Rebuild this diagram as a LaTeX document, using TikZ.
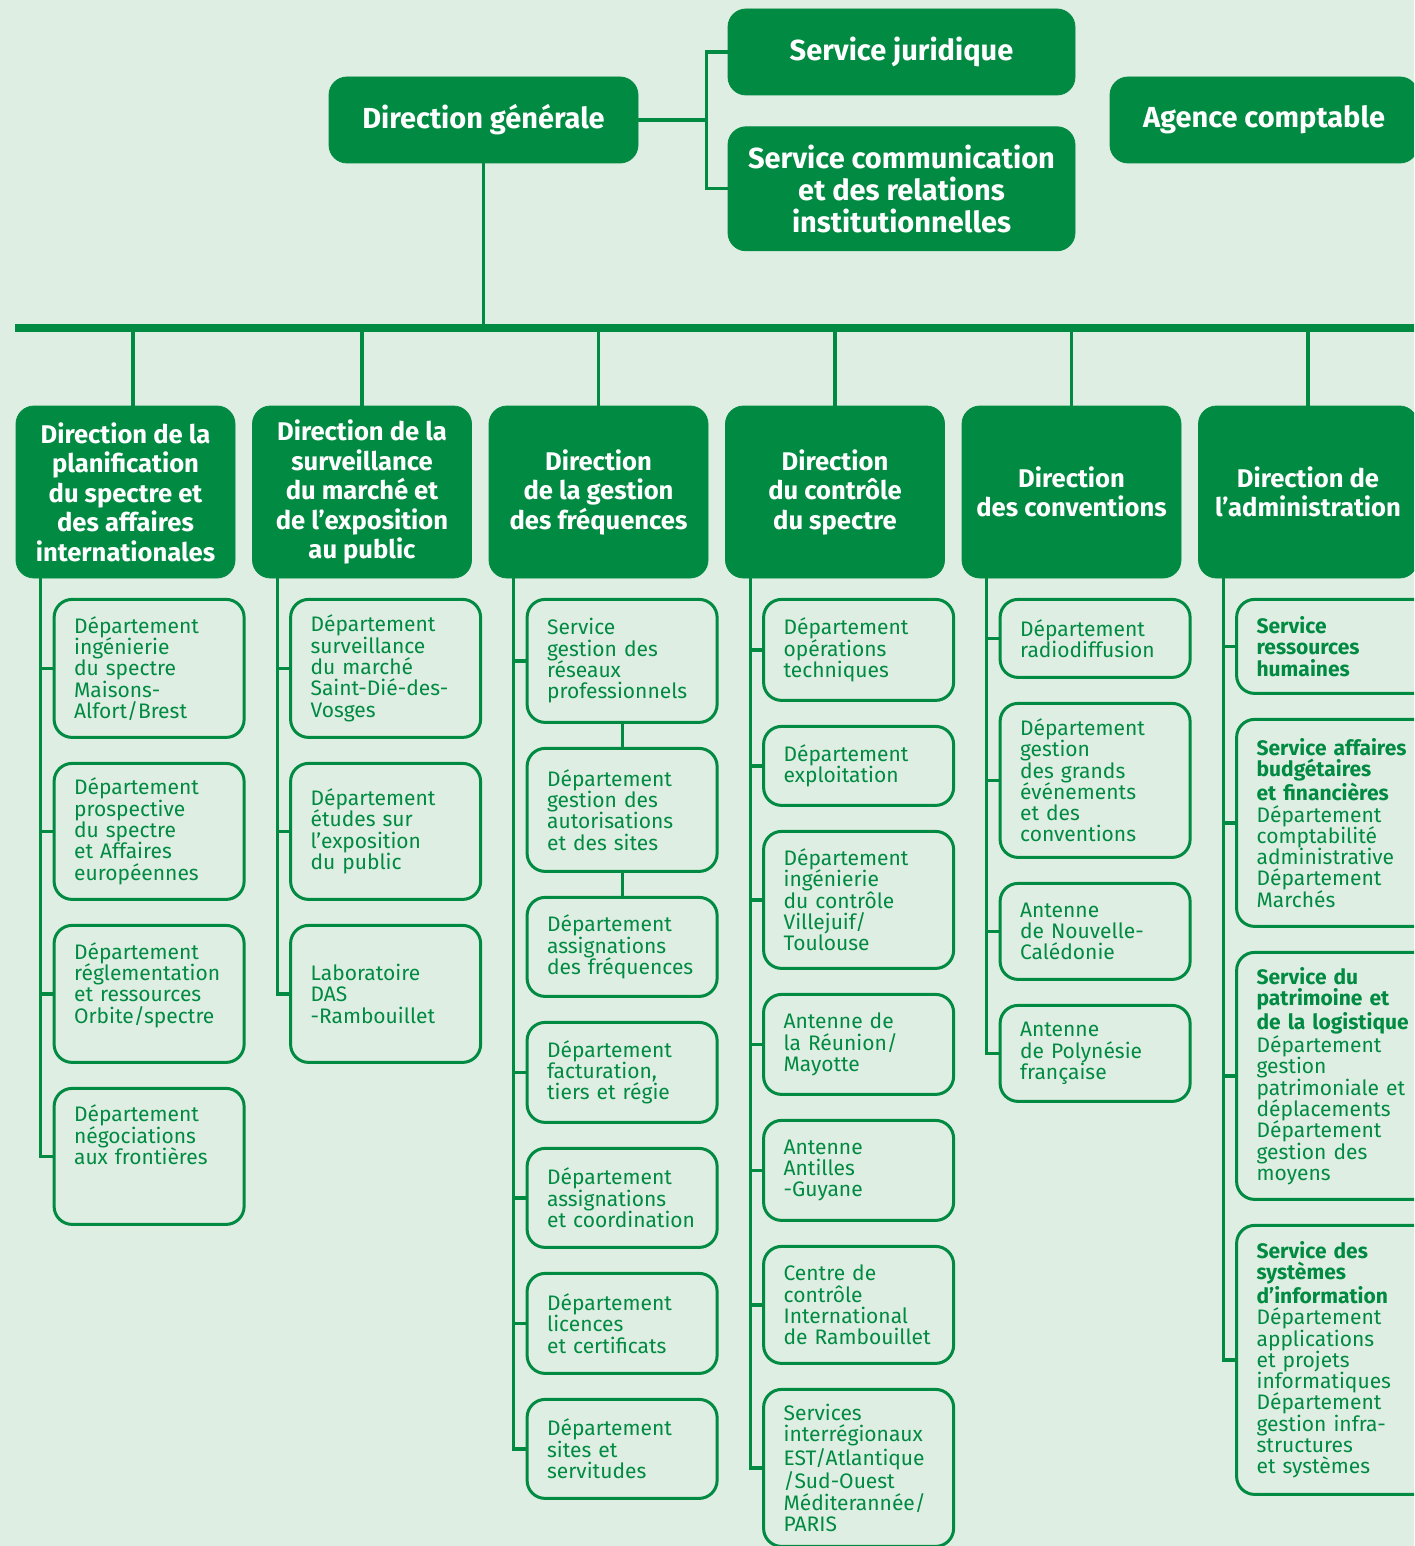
\documentclass[tikz,border=0pt]{standalone}
\usepackage{fontspec}
\setmainfont{Fira Sans}
\usetikzlibrary{positioning}
\definecolor{anfrgreen}{HTML}{008A42}
\definecolor{anfrbg}{HTML}{DFEEE2}
\hyphenpenalty=10000
\exhyphenpenalty=10000

\begin{document}
\begin{tikzpicture}[x=0.5pt,y=-0.5pt,node distance=11.5pt,
    topbox/.style={draw=anfrgreen,fill=anfrgreen,text=white,rounded corners=9pt,align=center,
      font=\fontsize{14.5}{16}\selectfont\bfseries,inner sep=2pt},
    dirbox/.style={draw=anfrgreen,fill=anfrgreen,text=white,rounded corners=9pt,align=center,
      font=\fontsize{12.8}{14.75}\selectfont\bfseries,minimum width=109.5pt,minimum height=86pt,inner sep=2pt},
    deptbox/.style={draw=anfrgreen,line width=1.5pt,text=anfrgreen,rounded corners=9pt,align=left,
      text width=75pt,inner xsep=10pt,inner ysep=3pt,font=\fontsize{10.5}{10.65}\selectfont,minimum height=#1},
    widebox/.style={deptbox=#1,text width=92pt},
    wire/.style={draw=anfrgreen,line width=1.6pt},
    mainbar/.style={draw=anfrgreen,line width=4pt}]

  \useasboundingbox (0,0) rectangle (1414,1546);
  \fill[anfrbg] (0,0) rectangle (1414,1546);
  \clip (0,0) rectangle (1414,1546);

  \node[topbox,minimum width=154.5pt,minimum height=43pt] (dg) at (483.5,120) {Direction générale};
  \node[topbox,minimum width=173.5pt,minimum height=43pt] (sj) at (901.5,52) {Service juridique};
  \node[topbox,minimum width=173.5pt,minimum height=62pt] (sc) [below=15.5pt of sj] {Service communication\\et des relations\\institutionnelles};
  \node[topbox,minimum width=154pt,minimum height=43pt] (ac) at (1264,120) {Agence comptable};

  \node[dirbox] (h1) at (125.5,492) {Direction de la\\planification\\du spectre et\\des affaires\\internationales};
  \node[dirbox] (h2) [right=8.35pt of h1] {Direction de la\\surveillance\\du marché et\\de l’exposition\\au public};
  \node[dirbox] (h3) [right=8.35pt of h2] {Direction\\de la gestion\\des fréquences};
  \node[dirbox] (h4) [right=8.35pt of h3] {Direction\\du contrôle\\du spectre};
  \node[dirbox] (h5) [right=8.35pt of h4] {Direction\\des conventions};
  \node[dirbox] (h6) [right=8.35pt of h5] {Direction de\\l’administration};

  \node[deptbox=69pt] (d11) [below right=9.75pt and 18.5pt of h1.south west] {Département\\ingénierie\\du spectre\\Maisons-\\Alfort/Brest};
  \node[deptbox=68pt] (d12) [below=of d11] {Département\\prospective\\du spectre\\et Affaires\\européennes};
  \node[deptbox=68.5pt,text depth=43pt] (d13) [below=of d12] {Département\\réglementation\\et ressources\\Orbite/spectre};
  \node[deptbox=68pt,text depth=43pt] (d14) [below=of d13] {Département\\négociations\\aux frontières};

  \node[deptbox=69pt] (d21) [below right=9.75pt and 18.5pt of h2.south west] {Département\\surveillance\\du marché\\Saint-Dié-des-\\Vosges};
  \node[deptbox=68pt] (d22) [below=of d21] {Département\\études sur\\l’exposition\\du public};
  \node[deptbox=68.5pt] (d23) [below=of d22] {Laboratoire\\DAS\\-Rambouillet};

  \node[deptbox=61.5pt] (d31) [below right=9.75pt and 18.5pt of h3.south west] {Service\\gestion des\\réseaux\\professionnels};
  \node[deptbox=61.5pt] (d32) [below=of d31] {Département\\gestion des\\autorisations\\et des sites};
  \node[deptbox=49.5pt] (d33) [below=of d32] {Département\\assignations\\des fréquences};
  \node[deptbox=50pt] (d34) [below=of d33] {Département\\facturation,\\tiers et régie};
  \node[deptbox=49.5pt] (d35) [below=of d34] {Département\\assignations\\et coordination};
  \node[deptbox=50pt] (d36) [below=of d35] {Département\\licences\\et certificats};
  \node[deptbox=49.5pt] (d37) [below=of d36] {Département\\sites et\\servitudes};

  \node[deptbox=50.5pt] (d41) [below right=9.75pt and 18.5pt of h4.south west] {Département\\opérations\\techniques};
  \node[deptbox=39.5pt] (d42) [below=of d41] {Département\\exploitation};
  \node[deptbox=68.5pt] (d43) [below=of d42] {Département\\ingénierie\\du contrôle\\Villejuif/\\Toulouse};
  \node[deptbox=50pt] (d44) [below=of d43] {Antenne de\\la Réunion/\\Mayotte};
  \node[deptbox=50pt] (d45) [below=of d44] {Antenne\\Antilles\\-Guyane};
  \node[deptbox=58.5pt] (d46) [below=of d45] {Centre de\\contrôle\\International\\de Rambouillet};
  \node[deptbox=78.5pt] (d47) [below=of d46] {Services\\interrégionaux\\EST/Atlantique\\/Sud-Ouest\\Méditerannée/\\PARIS};

  \node[deptbox=39pt] (d51) [below right=9.75pt and 18.5pt of h5.south west] {Département\\radiodiffusion};
  \node[deptbox=77pt] (d52) [below=of d51] {Département\\gestion\\des grands\\événements\\et des\\conventions};
  \node[deptbox=48pt] (d53) [below=of d52] {Antenne\\de Nouvelle-\\Calédonie};
  \node[deptbox=48pt] (d54) [below=of d53] {Antenne\\de Polynésie\\française};

  \node[widebox=47pt] (d61) [below right=9.75pt and 18.5pt of h6.south west] {{\bfseries Service\\ressources\\humaines}};
  \node[widebox=103.5pt] (d62) [below=of d61] {{\bfseries Service affaires\\budgétaires\\et financières}\\Département\\comptabilité\\administrative\\Département\\Marchés};
  \node[widebox=123.5pt] (d63) [below=of d62] {{\bfseries Service du\\patrimoine et\\de la logistique}\\Département\\gestion\\patrimoniale et\\déplacements\\Département\\gestion des\\moyens};
  \node[widebox=134.5pt] (d64) [below=of d63] {{\bfseries Service des\\systèmes\\d’information}\\Département\\applications\\et projets\\informatiques\\Département\\gestion infra-\\structures\\et systèmes};

  \coordinate (barL) at (15,328);
  \coordinate (barR) at (1420,328);
  \coordinate (fork) at ([xshift=34pt]dg.east);
  \coordinate (t1) at ([xshift=3.75pt]h1.north);
  \coordinate (s1) at ([xshift=12.5pt]h1.south west);
  \coordinate (s2) at ([xshift=12.5pt]h2.south west);
  \coordinate (s3) at ([xshift=12.5pt]h3.south west);
  \coordinate (s4) at ([xshift=12.5pt]h4.south west);
  \coordinate (s5) at ([xshift=12.5pt]h5.south west);
  \coordinate (s6) at ([xshift=12.5pt]h6.south west);

  \draw[wire] (dg.east) -- (fork);
  \draw[wire] (sj.west) -| (fork) |- (sc.west);
  \draw[wire] (dg.south) -- (dg.south |- barL);
  \draw[wire] (t1) -- (t1 |- barL);
  \foreach \h in {h2,h3,h4,h5,h6}
    \draw[wire] (\h.north) -- (\h.north |- barL);
  \draw[mainbar] (barL) -- (barR);

  \draw[wire] (s1) |- (d14.west);
  \foreach \b in {d11,d12,d13}
    \draw[wire] (\b.west) -- (\b.west -| s1);
  \draw[wire] (s2) |- (d23.west);
  \foreach \b in {d21,d22}
    \draw[wire] (\b.west) -- (\b.west -| s2);
  \draw[wire] (s3) |- (d37.west);
  \foreach \b in {d31,d34,d35,d36}
    \draw[wire] (\b.west) -- (\b.west -| s3);
  \draw[wire] (d31.south) -- (d32.north) (d32.south) -- (d33.north);
  \draw[wire] (s4) |- (d47.west);
  \foreach \b in {d41,d42,d43,d44,d45,d46}
    \draw[wire] (\b.west) -- (\b.west -| s4);
  \draw[wire] (s5) |- (d54.west);
  \foreach \b in {d51,d52,d53}
    \draw[wire] (\b.west) -- (\b.west -| s5);
  \draw[wire] (s6) |- (d64.west);
  \foreach \b in {d61,d62,d63}
    \draw[wire] (\b.west) -- (\b.west -| s6);
\end{tikzpicture}
\end{document}
